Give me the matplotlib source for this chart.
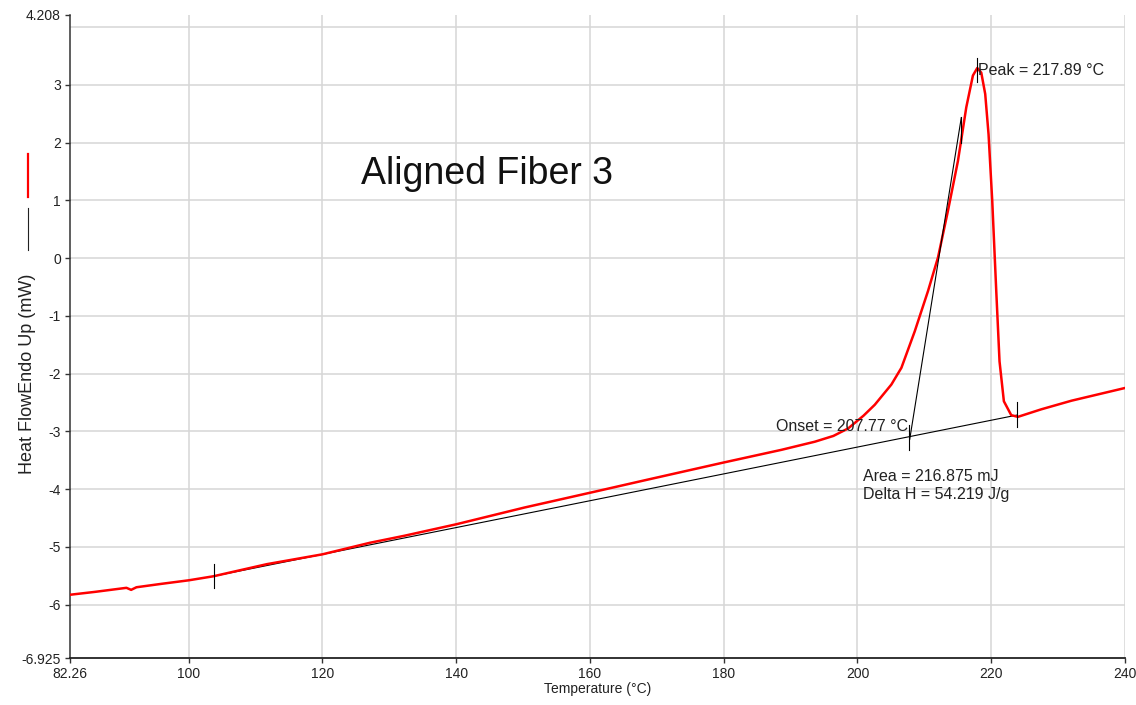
import matplotlib
matplotlib.use('Agg')
import matplotlib.pyplot as plt
from matplotlib.lines import Line2D

plt.rcParams['font.family'] = ['Liberation Sans', 'DejaVu Sans']

# DSC curve
temp = [82.26, 86.0, 90.7, 91.4, 92.2, 96.0, 100.0, 103.7, 111.7, 120.0,
        127.1, 132.2, 140.0, 150.2, 161.3, 168.5, 180.0, 188.66, 193.63, 196.4,
        198.61, 200.9, 202.59, 205.07, 206.57, 208.56, 210.55, 212.04, 213.53, 215.02,
        216.27, 217.26, 217.91, 218.51, 219.10, 219.60, 220.15, 220.75, 221.24, 221.89,
        222.99, 223.98, 227.46, 232.0, 236.0, 240.0]
heat_flow = [-5.83, -5.78, -5.71, -5.745, -5.70, -5.64, -5.58, -5.51, -5.30, -5.13,
             -4.93, -4.81, -4.61, -4.32, -4.03, -3.84, -3.54, -3.32, -3.18, -3.08,
             -2.95, -2.73, -2.54, -2.19, -1.90, -1.27, -0.57, 0.01, 0.82, 1.68,
             2.61, 3.16, 3.29, 3.21, 2.84, 2.14, 0.99, -0.57, -1.79, -2.48,
             -2.72, -2.75, -2.62, -2.47, -2.36, -2.25]

# baseline and onset tangent
base_t = [103.7, 223.8]
base_hf = [-5.51, -2.72]
tangent_t = [207.81, 215.52]
tangent_hf = [-3.14, 2.43]

# marker ticks: (temperature, low, high)
markers = [(103.8, -5.72, -5.29), (223.8, -2.93, -2.49),
           (207.77, -3.33, -2.89), (217.89, 3.04, 3.47), (215.52, 2.0, 2.45)]

xticks = [82.26, 100, 120, 140, 160, 180, 200, 220, 240]
xticklabels = ['82.26', '100', '120', '140', '160', '180', '200', '220', '240']
yticks = [-6.925, -6, -5, -4, -3, -2, -1, 0, 1, 2, 3, 4.208]
yticklabels = ['-6.925', '-6', '-5', '-4', '-3', '-2', '-1', '0', '1', '2', '3', '4.208']
xgrid = [100, 120, 140, 160, 180, 200, 220, 240]
ygrid = [-6, -5, -4, -3, -2, -1, 0, 1, 2, 3, 4]

fig = plt.figure(figsize=(11.36, 7.05), dpi=100)
ax = fig.add_axes([70 / 1136, 47 / 705, 1055 / 1136, 643 / 705])
ax.set_xlim(82.26, 240)
ax.set_ylim(-6.925, 4.208)

for g in xgrid:
    ax.axvline(g, color='#d6d6d6', lw=1.1, zorder=0)
for g in ygrid:
    ax.axhline(g, color='#d6d6d6', lw=1.1, zorder=0)

ax.plot(base_t, base_hf, color='black', lw=0.8, zorder=2)
ax.plot(temp, heat_flow, color='#ff0000', lw=1.8, zorder=3, solid_joinstyle='round')
ax.plot(tangent_t, tangent_hf, color='black', lw=0.8, zorder=4)
for t, lo, hi in markers:
    ax.plot([t, t], [lo, hi], color='black', lw=0.8, zorder=4)

ax.set_xticks(xticks)
ax.set_xticklabels(xticklabels)
ax.set_yticks(yticks)
ax.set_yticklabels(yticklabels)
ax.tick_params(direction='out', length=3.5, width=1, colors='#333333',
               labelsize=10, labelcolor='#222222', pad=3)

ax.spines['top'].set_visible(False)
ax.spines['right'].set_visible(False)
ax.spines['left'].set_color('#333333')
ax.spines['bottom'].set_color('#222222')
ax.spines['left'].set_linewidth(1.1)
ax.spines['bottom'].set_linewidth(1.3)

ax.text(125.7, 1.46, 'Aligned Fiber 3', fontsize=27, color='#111111', ha='left', va='center')
ax.text(218.05, 3.25, 'Peak = 217.89 °C', fontsize=11.5, color='#222222', ha='left', va='center')
ax.text(207.5, -2.92, 'Onset = 207.77 °C', fontsize=11.5, color='#222222', ha='right', va='center')
ax.text(200.9, -3.79, 'Area = 216.875 mJ', fontsize=11.5, color='#222222', ha='left', va='center')
ax.text(200.9, -4.10, 'Delta H = 54.219 J/g', fontsize=11.5, color='#222222', ha='left', va='center')

ax.set_xlabel('Temperature (°C)', fontsize=10, color='#222222', labelpad=1)

# y label with the curve key lines above it
fig.text(28 / 1136, 1 - 374 / 705, 'Heat FlowEndo Up (mW)', rotation=90,
         fontsize=13, color='#222222', ha='center', va='center')
fig.add_artist(Line2D([28 / 1136, 28 / 1136], [1 - 154 / 705, 1 - 197 / 705],
                      color='#ff0000', lw=1.6))
fig.add_artist(Line2D([28 / 1136, 28 / 1136], [1 - 208 / 705, 1 - 250 / 705],
                      color='#222222', lw=0.8))

fig.savefig('out.png', dpi=100, facecolor='white')
